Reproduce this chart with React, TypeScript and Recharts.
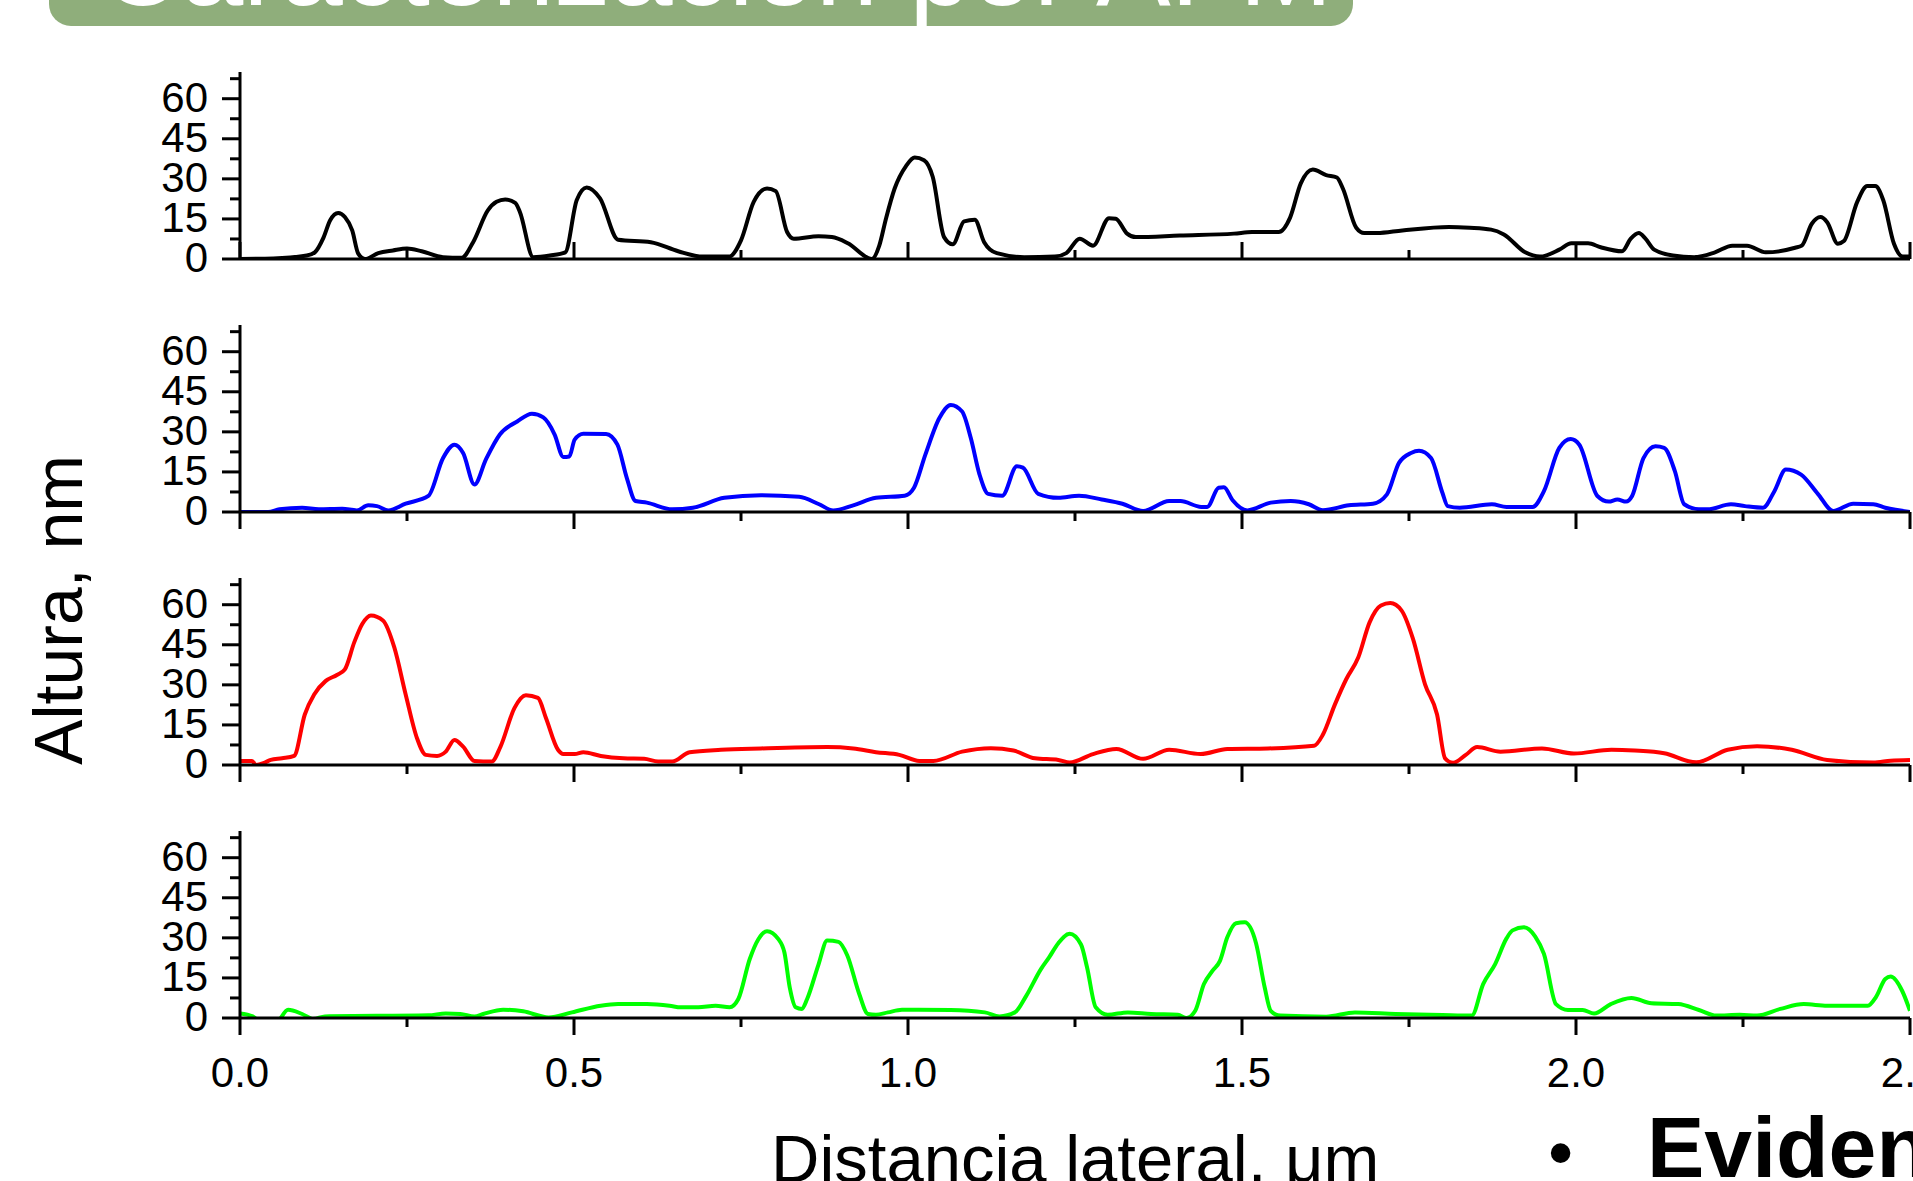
import { Line, LineChart, XAxis, YAxis } from "recharts"

// height profiles: [lateral distance um, height nm]
const profileBlack: [number, number][] = [
  [0, 0], [0.05, 0.2], [0.1, 1.3], [0.112, 2.5], [0.125, 8], [0.135, 14.5], [0.147, 17.2], [0.157, 15.7],
  [0.168, 10.7], [0.177, 2], [0.187, 0], [0.207, 2.2], [0.229, 3.2], [0.25, 3.9], [0.272, 2.9], [0.304, 0.7],
  [0.332, 0.5], [0.349, 6.3], [0.371, 18.2], [0.384, 21.4], [0.397, 22.3], [0.412, 21], [0.419, 17.6],
  [0.439, 0.7], [0.464, 1.3], [0.487, 2.5], [0.504, 22], [0.519, 26.8], [0.539, 22.7], [0.566, 7.2],
  [0.615, 6.3], [0.656, 2.9], [0.693, 0.9], [0.732, 0.9], [0.75, 7], [0.769, 21.4], [0.789, 26.4],
  [0.802, 25.4], [0.819, 10.1], [0.829, 7.6], [0.866, 8.5], [0.886, 8.2], [0.91, 5.9], [0.946, 0],
  [0.957, 5], [0.967, 15.1], [0.98, 26.4], [0.997, 34.8], [1.01, 38], [1.024, 37], [1.037, 30.8],
  [1.054, 8.2], [1.067, 5.5], [1.084, 14.1], [1.1, 14.7], [1.114, 6.3], [1.133, 2.2], [1.174, 0.7],
  [1.22, 0.9], [1.237, 2.2], [1.257, 7.6], [1.277, 5], [1.301, 15.3], [1.311, 15.1], [1.328, 9.5],
  [1.341, 8.2], [1.407, 8.8], [1.488, 9.5], [1.515, 10.1], [1.555, 10.1], [1.572, 15.5], [1.588, 28.3],
  [1.606, 33.5], [1.626, 31.4], [1.642, 30.5], [1.651, 26.4], [1.671, 11.7], [1.683, 9.7], [1.702, 9.7],
  [1.74, 10.7], [1.81, 12], [1.841, 11.7], [1.873, 11], [1.892, 9.2], [1.924, 2.5], [1.946, 0.9],
  [1.975, 3.5], [1.993, 5.9], [2.018, 5.9], [2.037, 4.4], [2.069, 2.9], [2.082, 7.6], [2.094, 9.7],
  [2.104, 7.6], [2.117, 3.5], [2.145, 1.3], [2.177, 0.7], [2.208, 2.5], [2.234, 5], [2.256, 5],
  [2.284, 2.5], [2.328, 4.2], [2.338, 5], [2.353, 13.2], [2.366, 15.7], [2.376, 13.8], [2.392, 5.7],
  [2.401, 6.7], [2.421, 21.4], [2.436, 27.3], [2.448, 27.3], [2.46, 22], [2.476, 5.7], [2.489, 0.9],
  [2.5, 0.9],
]

const profileBlue: [number, number][] = [
  [0, 0], [0.042, 0], [0.059, 1], [0.093, 1.6], [0.118, 1], [0.153, 1.2], [0.175, 0.6], [0.192, 2.5],
  [0.205, 2.2], [0.222, 0.6], [0.248, 3.1], [0.282, 6], [0.304, 20.2], [0.321, 25.2], [0.334, 22.1],
  [0.351, 10.3], [0.368, 19.6], [0.389, 29], [0.415, 33.9], [0.437, 36.8], [0.454, 35.4], [0.471, 29],
  [0.484, 20.6], [0.493, 20.8], [0.501, 27.1], [0.514, 29.3], [0.548, 29.2], [0.565, 25.2], [0.579, 12.8],
  [0.592, 4.1], [0.609, 3.5], [0.647, 1], [0.678, 1.6], [0.725, 5.3], [0.78, 6.3], [0.837, 5.7],
  [0.867, 2.9], [0.888, 0.6], [0.918, 2.5], [0.952, 5.3], [0.995, 6.1], [1.009, 9.1], [1.026, 21.5],
  [1.047, 35.2], [1.064, 40.1], [1.081, 37.6], [1.094, 27.7], [1.107, 14.1], [1.12, 6.8], [1.141, 6.1],
  [1.163, 17.1], [1.172, 16.6], [1.195, 6.8], [1.225, 5.3], [1.256, 6.1], [1.29, 4.7], [1.321, 3.1],
  [1.352, 0.4], [1.391, 4.1], [1.408, 4.1], [1.439, 1.9], [1.448, 1.9], [1.465, 9.1], [1.473, 9.3],
  [1.486, 4.4], [1.508, 0.6], [1.543, 3.5], [1.573, 4.1], [1.6, 2.9], [1.621, 0.7], [1.66, 2.5],
  [1.696, 3.1], [1.717, 6.6], [1.735, 18.4], [1.753, 22.1], [1.765, 22.9], [1.783, 20.2], [1.8, 7.2],
  [1.808, 2.2], [1.826, 1.6], [1.874, 2.9], [1.896, 1.9], [1.935, 1.9], [1.952, 7.8], [1.975, 24],
  [1.992, 27.3], [2.005, 25.2], [2.032, 6], [2.049, 3.9], [2.062, 4.7], [2.075, 3.9], [2.084, 6],
  [2.101, 20.2], [2.119, 24.6], [2.132, 24], [2.148, 15.3], [2.162, 2.9], [2.184, 1], [2.197, 1],
  [2.232, 2.9], [2.253, 2.2], [2.28, 1.6], [2.297, 7.8], [2.314, 15.9], [2.337, 14], [2.362, 6.8],
  [2.385, 0.4], [2.415, 3.1], [2.445, 2.9], [2.463, 1.6], [2.5, 0],
]

const profileRed: [number, number][] = [
  [0, 1.5], [0.018, 1.5], [0.024, 0], [0.037, 0.9], [0.046, 1.9], [0.063, 2.5], [0.081, 3.4], [0.097, 18.9],
  [0.111, 26.4], [0.128, 31.4], [0.145, 33.7], [0.157, 35.8], [0.171, 45.9], [0.183, 52.8], [0.196, 56],
  [0.214, 54.1], [0.231, 44], [0.248, 26.4], [0.265, 10], [0.278, 3.8], [0.295, 3.4], [0.308, 5],
  [0.321, 9.4], [0.334, 6.9], [0.351, 1.5], [0.377, 1.3], [0.39, 6.9], [0.411, 21.4], [0.428, 26.1],
  [0.446, 25.1], [0.458, 17.6], [0.476, 5.7], [0.484, 4.1], [0.501, 4.1], [0.514, 4.8], [0.54, 3.4],
  [0.574, 2.5], [0.605, 2.3], [0.626, 1.3], [0.647, 1.3], [0.673, 4.8], [0.72, 5.7], [0.78, 6.2],
  [0.879, 6.7], [0.918, 6.2], [0.952, 4.8], [0.987, 3.8], [1.017, 1.5], [1.038, 1.5], [1.081, 5],
  [1.124, 6.3], [1.158, 5.4], [1.19, 2.5], [1.225, 1.9], [1.242, 0.9], [1.277, 4.1], [1.312, 6],
  [1.352, 2.3], [1.391, 5.7], [1.438, 4.1], [1.478, 6], [1.539, 6.2], [1.608, 7.2], [1.621, 11.3],
  [1.639, 22.6], [1.656, 32.1], [1.674, 40.2], [1.691, 53.4], [1.708, 59.7], [1.722, 60.6], [1.739, 57.8],
  [1.756, 47.2], [1.774, 30.2], [1.792, 18.9], [1.804, 2.5], [1.816, 0.8], [1.835, 3.8], [1.852, 6.7],
  [1.887, 5], [1.949, 6.2], [1.997, 4.3], [2.053, 5.7], [2.088, 5.4], [2.132, 4.4], [2.18, 1],
  [2.227, 5.7], [2.271, 7], [2.323, 5.7], [2.376, 1.9], [2.445, 0.9], [2.471, 1.6], [2.5, 1.9],
]

const profileGreen: [number, number][] = [
  [0, 1.7], [0.019, 0.6], [0.033, -1.7], [0.054, -1.7], [0.072, 3.1], [0.093, 1.5], [0.11, -0.4],
  [0.127, 0.6], [0.282, 1], [0.308, 1.7], [0.33, 1.5], [0.351, 0.6], [0.364, 1.5], [0.394, 3.1],
  [0.424, 2.5], [0.462, 0.2], [0.497, 2.1], [0.54, 4.6], [0.566, 5.2], [0.609, 5.2], [0.643, 4.6],
  [0.66, 4], [0.686, 4], [0.712, 4.6], [0.733, 4], [0.746, 7.1], [0.763, 22], [0.776, 29.5], [0.789, 32.5],
  [0.806, 29.5], [0.815, 24.5], [0.823, 11.4], [0.832, 4], [0.841, 3.4], [0.849, 7.1], [0.866, 20],
  [0.879, 29], [0.896, 28.5], [0.909, 23.5], [0.927, 9], [0.94, 1.5], [0.952, 1.2], [0.97, 2.1],
  [0.991, 3.1], [1.064, 3], [1.115, 2.1], [1.137, 0.6], [1.16, 2.1], [1.177, 8.3], [1.199, 18.3],
  [1.211, 22.6], [1.225, 28], [1.242, 31.5], [1.259, 27.5], [1.268, 19], [1.281, 4], [1.299, 1.2],
  [1.329, 2.1], [1.364, 1.5], [1.404, 1.2], [1.417, 0], [1.43, 2.7], [1.443, 12.7], [1.456, 17.7],
  [1.467, 21.4], [1.478, 30.2], [1.491, 35.5], [1.504, 35.8], [1.521, 28], [1.534, 11.4], [1.543, 2.7],
  [1.557, 0.9], [1.626, 0.5], [1.669, 2.1], [1.73, 1.5], [1.8, 1.1], [1.844, 0.9], [1.861, 12.7],
  [1.879, 20.2], [1.896, 29.8], [1.905, 32.8], [1.922, 34], [1.939, 30.5], [1.952, 24], [1.97, 5.2],
  [1.988, 3], [2.01, 3], [2.027, 1.7], [2.052, 5.2], [2.083, 7.5], [2.113, 5.5], [2.153, 5.2],
  [2.184, 3], [2.21, 0.9], [2.245, 1.2], [2.271, 0.9], [2.306, 3.4], [2.341, 5.2], [2.376, 4.6],
  [2.437, 4.6], [2.449, 7.8], [2.463, 14.6], [2.471, 15.5], [2.488, 10.3], [2.5, 2.7],
]

const xTicks = [0, 0.25, 0.5, 0.75, 1, 1.25, 1.5, 1.75, 2, 2.25, 2.5]
const xMajor = [0, 0.5, 1, 1.5, 2, 2.5]
const yTicks = [0, 7.5, 15, 22.5, 30, 37.5, 45, 52.5, 60, 67.5]
const yMajor = [0, 15, 30, 45, 60]

const FONT = "'Liberation Sans', Arial, sans-serif"
const PLOT_H = 187
const TOP = 8

const panels = [
  { data: profileBlack, color: "#000000", zero: 259, ticksUp: true, labels: false },
  { data: profileBlue, color: "#0000ff", zero: 512, ticksUp: false, labels: false },
  { data: profileRed, color: "#ff0000", zero: 765, ticksUp: false, labels: false },
  { data: profileGreen, color: "#00ff00", zero: 1018, ticksUp: false, labels: true },
]

function XTick(props: any) {
  const { x, y, payload, up, labels } = props
  const v = payload.value
  const major = xMajor.includes(v)
  const len = major ? 17 : 9
  const dir = up ? -1 : 1
  return (
    <g>
      <line x1={x} x2={x} y1={y} y2={y + dir * len} stroke="#000" strokeWidth={3} />
      {labels && major && (
        <text x={x} y={y + 69} textAnchor="middle" fontSize={42} fontFamily={FONT} fill="#000">
          {v.toFixed(1)}
        </text>
      )}
    </g>
  )
}

function YTick(props: any) {
  const { x, y, payload } = props
  const v = payload.value
  const major = yMajor.includes(v)
  return (
    <g>
      <line x1={x - (major ? 18 : 10)} x2={x} y1={y} y2={y} stroke="#000" strokeWidth={3} />
      {major && (
        <text x={x - 32} y={y + 13} textAnchor="end" fontSize={42} fontFamily={FONT} fill="#000">
          {v}
        </text>
      )}
    </g>
  )
}

function Panel({ p }: { p: (typeof panels)[number] }) {
  const rows = p.data.map(([x, h]) => ({ x, h }))
  const axisH = p.labels ? 85 : 25
  return (
    <div style={{ position: "absolute", left: 0, top: p.zero - PLOT_H - TOP }}>
      <LineChart
        width={1913}
        height={TOP + PLOT_H + axisH}
        data={rows}
        margin={{ top: TOP, right: 3, bottom: 0, left: 0 }}
      >
        <XAxis
          dataKey="x"
          type="number"
          domain={[0, 2.5]}
          ticks={xTicks}
          interval={0}
          allowDataOverflow
          height={axisH}
          tickSize={0}
          tickMargin={0}
          tickLine={false}
          axisLine={{ stroke: "#000", strokeWidth: 3 }}
          tick={(tp: any) => <XTick {...tp} up={p.ticksUp} labels={p.labels} />}
        />
        <YAxis
          type="number"
          domain={[0, 70]}
          ticks={yTicks}
          interval={0}
          allowDataOverflow
          width={240}
          tickSize={0}
          tickMargin={0}
          tickLine={false}
          axisLine={{ stroke: "#000", strokeWidth: 3 }}
          tick={(tp: any) => <YTick {...tp} />}
        />
        <Line
          type="monotone"
          dataKey="h"
          stroke={p.color}
          strokeWidth={4}
          strokeLinejoin="round"
          dot={false}
          isAnimationActive={false}
        />
      </LineChart>
    </div>
  )
}

export default function App() {
  return (
    <div
      style={{
        position: "absolute",
        left: 0,
        top: 0,
        width: 1913,
        height: 1181,
        overflow: "hidden",
        background: "#fff",
      }}
    >
      <svg width={1913} height={1181} style={{ position: "absolute", left: 0, top: 0 }}>
        <rect x={49} y={-40} width={1304} height={66} rx={22} fill="#8fae7b" />
        <text x={100} y={5} fontSize={112} fontFamily={FONT} fill="#fff">
          Caracterización por AFM
        </text>
        <text
          transform="translate(82,610) rotate(-90)"
          textAnchor="middle"
          fontSize={68}
          fontFamily={FONT}
          fill="#000"
        >
          Altura, nm
        </text>
        <text x={771} y={1182} fontSize={67} fontFamily={FONT} fill="#000">
          Distancia lateral, μm
        </text>
        <text x={1548} y={1177} fontSize={72} fontFamily={FONT} fill="#000">
          •
        </text>
        <text x={1647} y={1177} fontSize={86} fontWeight="bold" fontFamily={FONT} fill="#000">
          Evidencia
        </text>
      </svg>
      {panels.map((p, i) => (
        <Panel key={i} p={p} />
      ))}
    </div>
  )
}
